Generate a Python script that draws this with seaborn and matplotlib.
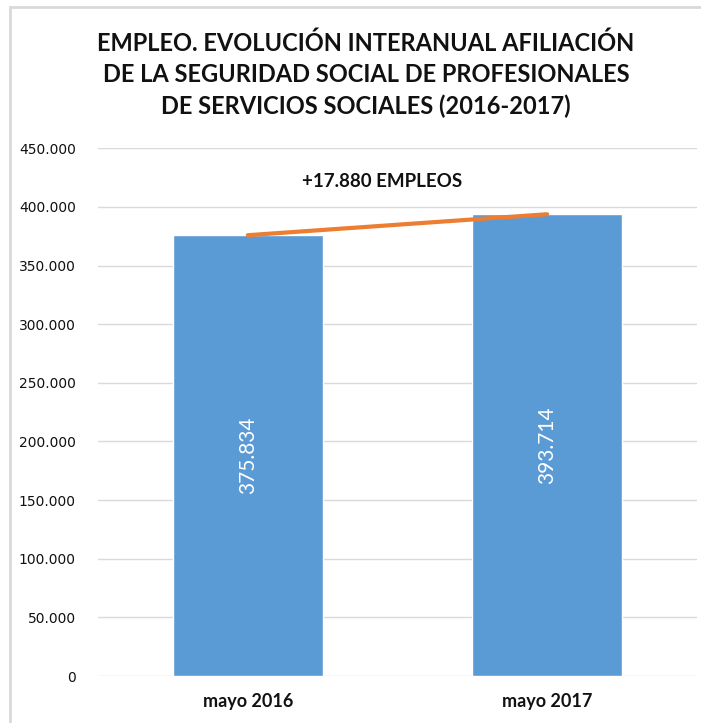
import numpy as np
import matplotlib
matplotlib.use("Agg")
import matplotlib.pyplot as plt
from matplotlib.patches import Rectangle
from matplotlib.ticker import FuncFormatter
import seaborn as sns

# data
categories = ["mayo 2016", "mayo 2017"]
afiliados = [375834, 393714]
y_ticks = [0, 50000, 100000, 150000, 200000, 250000, 300000, 350000, 400000, 450000]
title = ("EMPLEO. EVOLUCIÓN INTERANUAL AFILIACIÓN\n"
         "DE LA SEGURIDAD SOCIAL DE PROFESIONALES\n"
         "DE SERVICIOS SOCIALES (2016-2017)")
diferencia = afiliados[1] - afiliados[0]


def miles(v, pos=None):
    return f"{int(v):,}".replace(",", ".")


sns.set_style("white")
plt.rcParams['font.family'] = ['DejaVu Sans']

fig = plt.figure(figsize=(7.01, 7.23), dpi=100)
ax = fig.add_axes([0.14, 0.065, 0.854, 0.73])

sns.barplot(x=categories, y=afiliados, color="#5B9BD5", width=0.5,
            saturation=1, ax=ax)
ax.plot(np.arange(len(categories)), afiliados, color="#ED7D31", lw=3,
        solid_capstyle="round", zorder=5)

# value labels inside the bars
for i, v in enumerate(afiliados):
    ax.text(i, v / 2, miles(v), rotation=90, ha="center", va="center",
            color="white", fontsize=15, family="Lato")

ax.text(0.45, 422000, f"+{miles(diferencia)} EMPLEOS", ha="center",
        va="center", fontsize=13.5, fontweight="bold", family="Lato",
        color="#111111")

ax.set_ylim(0, 450000)
ax.set_xlim(-0.5, 1.5)
ax.set_yticks(y_ticks)
ax.yaxis.set_major_formatter(FuncFormatter(miles))
ax.grid(axis="y", color="#D9D9D9", lw=1)
ax.set_axisbelow(True)
sns.despine(ax=ax, left=True, bottom=True)
ax.tick_params(length=0)
ax.tick_params(axis="y", labelsize=10, labelcolor="#111111", pad=16)
ax.tick_params(axis="x", pad=12)
for lbl in ax.get_xticklabels():
    lbl.set_fontweight("bold")
    lbl.set_family("Lato")
    lbl.set_fontsize(13)
    lbl.set_color("#111111")

fig.text(0.522, 0.897, title, ha="center", va="center", fontsize=17,
         fontweight="bold", family="Lato", linespacing=1.42, color="#111111")

# light frame around the chart
fig.patches.append(Rectangle((10 / 701, -0.05), 1.1, 1.05 - 7 / 723,
                             transform=fig.transFigure, fill=False,
                             edgecolor="#D9D9D9", lw=2))

plt.savefig("out.png", dpi=100)
